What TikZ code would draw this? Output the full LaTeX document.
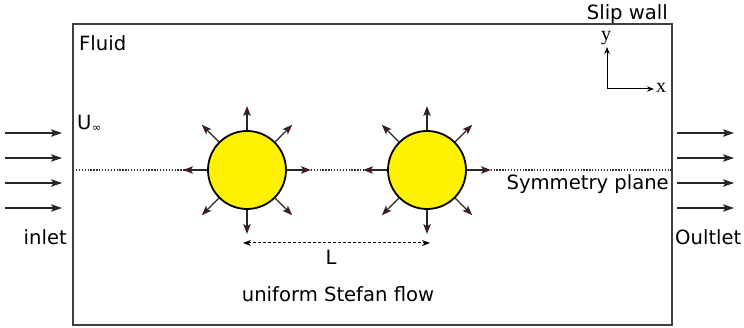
\documentclass[tikz,border=0pt]{standalone}
\usepackage{fontspec}
\setmainfont{DejaVu Sans}
\newfontfamily\axisfont{Liberation Serif}
\usetikzlibrary{arrows.meta}
\begin{document}
\begin{tikzpicture}[x=1pt,y=-1pt,
  lbl/.style={inner sep=0pt,font=\fontsize{19.6}{22}\selectfont},
  particle/.style={circle,draw=black,line width=1.8pt,fill=yellow,minimum size=78pt,inner sep=0pt},
  radial/.style={draw=black!85,line width=1.1pt,-{Stealth[length=10pt,width=7.5pt,inset=2.5pt,fill=red!55!black]}},
  flow/.style={draw=black!85,line width=1.1pt,-{Stealth[length=11pt,width=7.5pt,inset=2.5pt]}},
  wall/.style={draw=black!75,line width=1.3pt},
  sym/.style={draw=black!80,line width=1.2pt,dash pattern=on 1.3pt off 1.6pt}]
\useasboundingbox (0,0) rectangle (744,328);
% domain
\draw[wall] (73,24) rectangle (672,325);
% symmetry plane
\coordinate (s1) at (73,170);
\coordinate (s2) at (672,170);
\draw[sym] (s1) -- (s2);
% particles
\node[particle] (p1) at (247,170) {};
\node[particle] (p2) at (427,170) {};
\foreach \p in {p1,p2}{
  \foreach \a in {0,45,...,315}{
    \draw[radial] (\p.\a) -- ++(\a:24pt);
  }
}
% inlet / outlet arrows
\foreach \yy/\n in {133/1,158/2,183/3,208/4}{
  \coordinate (ia\n) at (5,\yy); \coordinate (ib\n) at (62,\yy);
  \coordinate (oa\n) at (677,\yy); \coordinate (ob\n) at (734,\yy);
  \draw[flow] (ia\n) -- (ib\n);
  \draw[flow] (oa\n) -- (ob\n);
}
% axes
\coordinate (o) at (607,89);
\node[inner sep=0pt,font=\axisfont\fontsize{20}{22}\selectfont] (ylab) at (606,38) {y};
\node[inner sep=0pt,font=\axisfont\fontsize{20}{22}\selectfont] (xlab) at (661,88) {x};
\draw[line width=1pt,-{Stealth[length=7pt,width=5.5pt]}] (o) -- (607,47);
\draw[line width=1pt,-{Stealth[length=7pt,width=5.5pt]}] (o) -- (654,89);
% distance
\coordinate (d1) at (243,243);
\coordinate (d2) at (430,243);
\draw[line width=1pt,dash pattern=on 3pt off 2pt,{Stealth[length=8pt,width=6pt]}-{Stealth[length=8pt,width=6pt]}] (d1) -- (d2);
% labels
\node[lbl,anchor=base west] (fluid) at (79,51) {Fluid};
\node[lbl,anchor=base east] (slip) at (668,20) {Slip wall};
\node[lbl,anchor=base west] (uinf) at (77,130) {U\kern0.5pt\raisebox{-2pt}{\fontsize{11}{12}\selectfont ∞}};
\node[lbl,anchor=base east] (inlet) at (67,245) {inlet};
\node[lbl,anchor=base west] (outlet) at (675,245) {Oultlet};
\node[lbl,anchor=base east] (symlbl) at (669,190) {Symmetry plane};
\node[lbl,anchor=base] (L) at (331,265) {L};
\node[lbl,anchor=base] (stefan) at (338,302) {uniform Stefan flow};
\end{tikzpicture}
\end{document}
